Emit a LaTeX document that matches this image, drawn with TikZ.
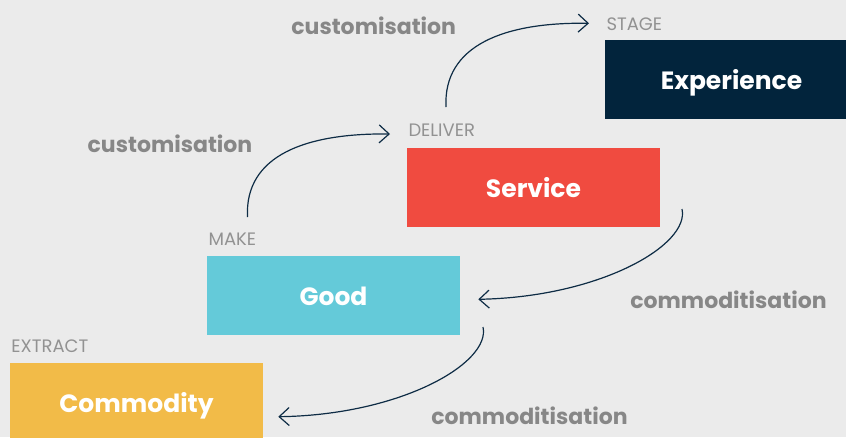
\documentclass[tikz,border=0pt]{standalone}
\usepackage{fontspec}
\setmainfont{Poppins}
\usetikzlibrary{arrows.meta}
\definecolor{paper}{HTML}{EBEBEB}
\definecolor{ink}{HTML}{0E2C45}
\definecolor{tagGrey}{HTML}{929292}
\definecolor{noteGrey}{HTML}{878787}
\definecolor{expNavy}{HTML}{02243C}
\definecolor{srvRed}{HTML}{F04B40}
\definecolor{goodCyan}{HTML}{64CAD9}
\definecolor{comYellow}{HTML}{F2BB48}
\begin{document}
\begin{tikzpicture}[x=1pt, y=-1pt,
  box/.style={rectangle, minimum width=253pt, minimum height=79pt, inner sep=0pt, text height=20pt, text depth=0pt, text=white, font=\bfseries\fontsize{25}{30}\selectfont},
  tag/.style={anchor=base west, inner sep=0pt, text=tagGrey, font=\fontsize{18}{20}\selectfont},
  note/.style={anchor=base, inner sep=0pt, text=noteGrey, font=\bfseries\fontsize{22}{26}\selectfont},
  flow/.style={-{Straight Barb[length=10pt, width=18pt]}, draw=ink, line width=1.2pt}]
\clip (0,0) rectangle (846,437);
\fill[paper] (0,0) rectangle (846,437);
% the four stages
\node[box, fill=expNavy] (exp) at (731.5,79.3) {Experience};
\node[box, fill=srvRed] (srv) at (533.5,187.5) {Service};
\node[box, fill=goodCyan] (good) at (333.5,295.5) {Good};
\node[box, fill=comYellow] (com) at (136.5,402.5) {Commodity};
\node[tag] (stage) at ([xshift=1.5pt, yshift=9.5pt]exp.north west) {STAGE};
\node[tag] (deliver) at ([xshift=1.5pt, yshift=11pt]srv.north west) {DELIVER};
\node[tag] (make) at ([xshift=1.5pt, yshift=10.5pt]good.north west) {MAKE};
\node[tag] (extract) at ([xshift=1.5pt, yshift=10pt]com.north west) {EXTRACT};
% arrow labels
\node[note] (cust1) at (373.7,34) {customisation};
\node[note] (cust2) at (170,152.7) {customisation};
\node[note] (comm1) at (728.5,308.3) {commoditisation};
\node[note] (comm2) at (529.5,424.3) {commoditisation};
% arrow ends
\coordinate (up1s) at (446,107);
\coordinate (up1e) at (589,23.3);
\coordinate (up2s) at (247.5,217);
\coordinate (up2e) at (390,134);
\coordinate (dn1s) at (682,209);
\coordinate (dn1e) at (478.3,299.3);
\coordinate (dn2s) at (483,327);
\coordinate (dn2e) at (278.3,416.7);
\draw[flow] (up1s) .. controls (443,45) and (505,22) .. (up1e);
\draw[flow] (up2s) .. controls (244.5,155) and (306.5,133) .. (up2e);
\draw[flow] (dn1s) .. controls (690,245) and (600,297) .. (dn1e);
\draw[flow] (dn2s) .. controls (491,363) and (401,415) .. (dn2e);
\end{tikzpicture}
\end{document}
